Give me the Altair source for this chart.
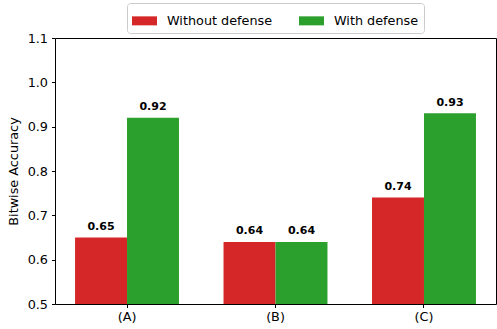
import altair as alt
import pandas as pd

# Bitwise accuracy per setting, with and without the defense
categories = ["(A)", "(B)", "(C)"]
series_names = ["Without defense", "With defense"]
without_defense = [0.65, 0.64, 0.74]
with_defense = [0.92, 0.64, 0.93]
y_ticks = [0.5, 0.6, 0.7, 0.8, 0.9, 1.0, 1.1]
series_colors = ["#d62728", "#2ca02c"]

rows = []
for cat, a, b in zip(categories, without_defense, with_defense):
    rows.append({"setting": cat, "series": series_names[0], "acc": a})
    rows.append({"setting": cat, "series": series_names[1], "acc": b})
df = pd.DataFrame(rows)
df["label"] = df["acc"].map(lambda v: f"{v:.2f}")

FONT = "DejaVu Sans"
FS = 12.8

x_enc = alt.X(
    "setting:N",
    sort=categories,
    title=None,
    scale=alt.Scale(paddingInner=0.3, paddingOuter=0.135),
    axis=alt.Axis(labelAngle=0, tickSize=3.5, labelPadding=3, domain=False,
                  tickColor="black", labelColor="black", labelFontSize=FS,
                  labelFont=FONT, grid=False),
)
xoff_enc = alt.XOffset("series:N", sort=series_names,
                       scale=alt.Scale(domain=series_names, paddingInner=0, paddingOuter=0))
y_scale = alt.Scale(domain=[0.5, 1.1], zero=False, nice=False)

bars = alt.Chart(df).mark_bar(clip=True, strokeWidth=0).encode(
    x=x_enc,
    xOffset=xoff_enc,
    y=alt.Y(
        "acc:Q",
        scale=y_scale,
        title="Bitwise Accuracy",
        axis=alt.Axis(values=y_ticks, format=".1f", tickSize=3.5, labelPadding=4,
                      domain=False, grid=False, tickColor="black", labelColor="black",
                      labelFontSize=FS, labelFont=FONT, titleFont=FONT,
                      titleFontSize=FS, titleFontWeight="normal", titleColor="black",
                      titlePadding=7),
    ),
    color=alt.Color(
        "series:N",
        sort=series_names,
        scale=alt.Scale(domain=series_names, range=series_colors),
        legend=alt.Legend(
            title=None,
            orient="none",
            legendX=72,
            legendY=-35,
            direction="horizontal",
            symbolType="M-1,-0.36L1,-0.36L1,0.36L-1,0.36Z",
            symbolSize=625,
            symbolStrokeWidth=0,
            labelFontSize=FS,
            labelFont=FONT,
            labelColor="black",
            labelOffset=10,
            columnPadding=26,
            padding=5,
            strokeColor="#cccccc",
            fillColor="white",
            cornerRadius=3,
        ),
    ),
)

labels = alt.Chart(df).mark_text(
    font=FONT, fontSize=11, fontWeight="bold", color="black",
    baseline="alphabetic", dy=-7.5,
).encode(
    x=alt.X("setting:N", sort=categories),
    xOffset=xoff_enc,
    y=alt.Y("acc:Q", scale=y_scale),
    text="label:N",
)

chart = (
    alt.layer(bars, labels)
    .properties(
        width=441,
        height=266,
        autosize=alt.AutoSizeParams(type="none"),
        padding={"left": 55, "top": 38, "right": 1, "bottom": 25},
        background="white",
    )
    .configure_view(stroke="black", strokeWidth=1)
)

chart.save("out.html", embed_options={"renderer": "svg", "actions": False})
